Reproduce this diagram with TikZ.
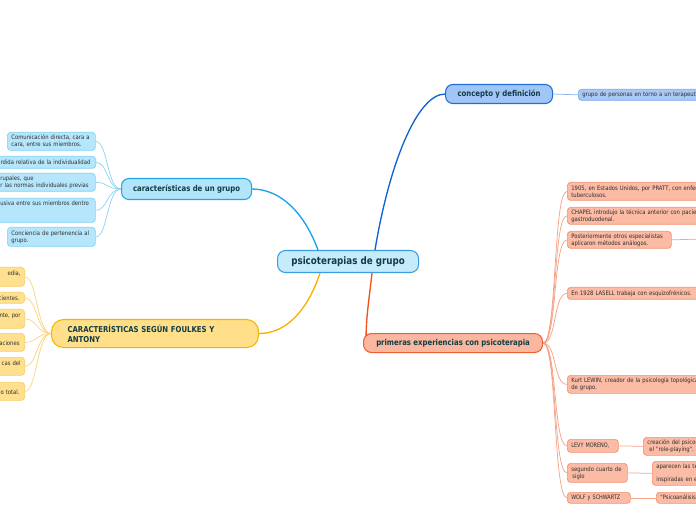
\documentclass[tikz,border=0pt]{standalone}
\usepackage{fontspec}
\newfontfamily\kidfont[FakeStretch=0.87]{DejaVu Sans}
\newfontfamily\capfont[FakeStretch=0.8]{DejaVu Sans}
\newfontfamily\headfont[FakeStretch=0.85]{DejaVu Sans}
\usetikzlibrary{calc,backgrounds}
\hyphenpenalty=10000
\exhyphenpenalty=10000
\definecolor{headtxt}{HTML}{0F3D45}
\definecolor{kidtxt}{HTML}{2E2E2E}
\definecolor{cenfill}{HTML}{C6EBFB}\definecolor{cendraw}{HTML}{3C9EE0}
\definecolor{cafill}{HTML}{B2E4FA}\definecolor{cadraw}{HTML}{22A6E6}\definecolor{caline}{HTML}{1AA3E8}
\definecolor{cakfill}{HTML}{B6E6FB}\definecolor{cakdraw}{HTML}{7FD3F7}\definecolor{cakline}{HTML}{8FD6F5}
\definecolor{cofill}{HTML}{A2C5F7}\definecolor{codraw}{HTML}{1F6FD8}\definecolor{coline}{HTML}{0F62D6}
\definecolor{cokfill}{HTML}{A8C8F5}\definecolor{cokdraw}{HTML}{7AA6E8}\definecolor{cokline}{HTML}{8FB5EE}
\definecolor{fofill}{HTML}{FFDF8A}\definecolor{fodraw}{HTML}{F5B400}\definecolor{foline}{HTML}{F8B100}
\definecolor{fokfill}{HTML}{FFE08F}\definecolor{fokdraw}{HTML}{F8CF66}\definecolor{fokline}{HTML}{FCD57E}
\definecolor{prfill}{HTML}{F9B79F}\definecolor{prdraw}{HTML}{EF5F34}\definecolor{prline}{HTML}{F0511E}
\definecolor{prkfill}{HTML}{FBBBA4}\definecolor{prkdraw}{HTML}{F59172}\definecolor{prkline}{HTML}{F6A287}
\begin{document}
\begin{tikzpicture}[x=0.75pt,y=-0.75pt,
  hd/.style={draw, line width=0.8pt, inner sep=0pt, align=center, text=headtxt,
    anchor=north west, font=\headfont\bfseries\fontsize{6.1}{7.2}\selectfont},
  kid/.style={draw, line width=0.55pt, rounded corners=2.5pt, inner xsep=3pt, inner ysep=0pt,
    align=left, text=kidtxt, anchor=north west, font=\kidfont\fontsize{4.55}{5.2}\selectfont},
  kidr/.style={kid, align=right, anchor=north east},
  ca/.style={fill=cakfill, draw=cakdraw},
  co/.style={fill=cokfill, draw=cokdraw},
  fo/.style={fill=fokfill, draw=fokdraw},
  pr/.style={fill=prkfill, draw=prkdraw},
  mainline/.style={line width=1pt},
  kidline/.style={line width=0.55pt}
]
\path[use as bounding box] (0,0) rectangle (696,520);
\clip (0,0) rectangle (696,520);

% ---------- main nodes ----------
\node[hd, fill=cenfill, draw=cendraw, rounded corners=6pt, minimum width=105.75pt, minimum height=16.5pt,
  font=\headfont\bfseries\fontsize{7.7}{9}\selectfont] (central) at (277,250) {psicoterapias de grupo};
\node[hd, fill=cafill, draw=cadraw, rounded corners=5.5pt, minimum width=97.5pt, minimum height=15.75pt]
  (caract) at (121,178) {características de un grupo};
\node[hd, fill=cofill, draw=codraw, rounded corners=5.5pt, minimum width=80.25pt, minimum height=14.25pt]
  (concepto) at (445,84) {concepto y definición};
\node[hd, fill=fofill, draw=fodraw, rounded corners=9pt, minimum height=21pt, inner xsep=12pt,
  text width=131.25pt, align=left] (foulkes) at (51,319) {CARACTERÍSTICAS SEGÚN FOULKES Y\\ANTONY};
\node[hd, fill=prfill, draw=prdraw, rounded corners=6pt, minimum width=134.25pt, minimum height=14.25pt]
  (primeras) at (363,333) {primeras experiencias con psicoterapia};

% ---------- características de un grupo ----------
\node[kid, ca, text width=60pt, minimum height=13.5pt] (c1) at (7,132) {Comunicación directa, cara a\\cara, entre sus miembros.};
\node[kid, ca, align=right, text width=76pt, minimum height=9pt] (c2) at (-14,156) {rdida relativa de la individualidad\hspace*{1pt}};
\node[kid, ca, text width=68.25pt, minimum height=13.5pt] (c3) at (-4,173) {rupales, que\\r las normas individuales previas};
\node[kid, ca, text width=68.25pt, minimum height=18pt] (c4) at (-4,198) {usiva entre sus miembros dentro\\\mbox{}\\\mbox{}};
\node[kid, ca, text width=60pt, minimum height=14.25pt] (c5) at (7,227) {Conciencia de pertenencia al\\grupo.};

% ---------- Foulkes y Antony ----------
\node[kidr, fo, text width=39.75pt, minimum height=14.25pt] (f1) at (25,267) {edia,\hspace*{5pt}\\\mbox{}};
\node[kidr, fo, text width=39.75pt, minimum height=8.25pt] (f2) at (25,292) {cientes.\hspace*{0.8pt}};
\node[kidr, fo, text width=39.75pt, minimum height=14.25pt] (f3) at (25,309) {nte, por\hspace*{1.5pt}\\\mbox{}};
\node[kidr, fo, text width=39.75pt, minimum height=13.5pt] (f4) at (25,333) {\mbox{}\\aciones\hspace*{0.8pt}};
\node[kidr, fo, text width=39.75pt, minimum height=13.5pt] (f5) at (25,357) {cas del\hspace*{2pt}\\\mbox{}};
\node[kidr, fo, text width=39.75pt, minimum height=13.5pt] (f6) at (25,382) {\mbox{}\\o total.\hspace*{0.8pt}};

% ---------- concepto ----------
\node[kid, co, text width=150pt, minimum height=8.25pt] (g) at (578,89) {grupo de personas en torno a un terapeuta};

% ---------- primeras experiencias ----------
\node[kid, pr, text width=150pt, minimum height=13.5pt] (p1) at (567,182) {1905, en Estados Unidos, por PRATT, con enfermos\\tuberculosos.};
\node[kid, pr, text width=150pt, minimum height=12.75pt] (p2) at (567,207) {CHAPEL introdujo la técnica anterior con pacientes\\gastroduodenal.};
\node[kid, pr, text width=72pt, minimum height=12.75pt] (p3) at (567,231) {Posteriormente otros especialistas\\aplicaron métodos análogos.};
\node[kid, pr, text width=150pt, minimum height=9pt] (p4) at (567,287) {En 1928 LASELL trabaja con esquizofrénicos.};
\node[kid, pr, text width=150pt, minimum height=13.5pt] (p5) at (567,375) {Kurt LEWIN, creador de la psicología topológica\\de grupo.};
\node[kid, pr, text width=32.25pt, minimum height=9.75pt, font=\capfont\fontsize{4.6}{5.2}\selectfont] (p6) at (567,439) {LEVY MORENO,};
\node[kid, pr, text width=39pt, minimum height=14.25pt] (p7) at (567,463) {segundo cuarto de\\\hspace*{0.8pt}siglo};
\node[kid, pr, text width=41.25pt, minimum height=8.25pt, font=\capfont\fontsize{4.6}{5.2}\selectfont] (p8) at (567,492) {WOLF y SCHWARTZ};
\node[kid, pr, text width=150pt, minimum height=13.5pt] (s6) at (643,437) {creación del psicodrama\\\hspace*{1.5pt}el "role-playing".};
\node[kid, pr, text width=150pt, minimum height=18pt] (s7) at (652,461) {aparecen las terapias\\\mbox{}\\inspiradas en el};
\node[kid, pr, text width=150pt, minimum height=8.25pt] (s8) at (656,492) {"Psicoanálisis en grupo"};
\coordinate (postc) at (702,239);

% ---------- connectors ----------
\begin{pgfonlayer}{background}
\fill[white] (0,0) rectangle (696,520);
\draw[mainline, coline] ($(central.north west)+(98,0)$) .. controls +(14,-85) and +(-28,0) .. (concepto.west);
\draw[mainline, caline] ($(central.north west)+(41,0)$) .. controls +(-14,-38) and +(28,0) .. (caract.east);
\draw[mainline, foline] ($(central.south west)+(43,0)$) .. controls +(-12,36) and +(28,0) .. (foulkes.east);
\draw[mainline, prline] ($(central.south west)+(95,0)$) .. controls +(-4,35) and +(0,-25) .. ($(primeras.west)+(3,0)$);
\foreach \k in {c1,c2,c3,c4,c5}
  \draw[kidline, cakline] (caract.west) .. controls +(-14,0) and +(12,0) .. (\k.east);
\foreach \k in {f1,f2,f3,f4,f5,f6}
  \draw[kidline, fokline] (foulkes.west) .. controls +(-14,0) and +(12,0) .. (\k.east);
\foreach \k in {p1,p2,p3,p4,p5,p6,p7,p8}
  \draw[kidline, prkline] (primeras.east) .. controls +(14,0) and +(-14,0) .. (\k.west);
\draw[kidline, cokline] (concepto.east) -- (g.west);
\draw[kidline, prkline] (p3.east) -- (postc);
\draw[kidline, prkline] (p6.east) -- (s6.west);
\draw[kidline, prkline] (p7.east) -- (s7.west);
\draw[kidline, prkline] (p8.east) -- (s8.west);
\end{pgfonlayer}
\end{tikzpicture}
\end{document}
